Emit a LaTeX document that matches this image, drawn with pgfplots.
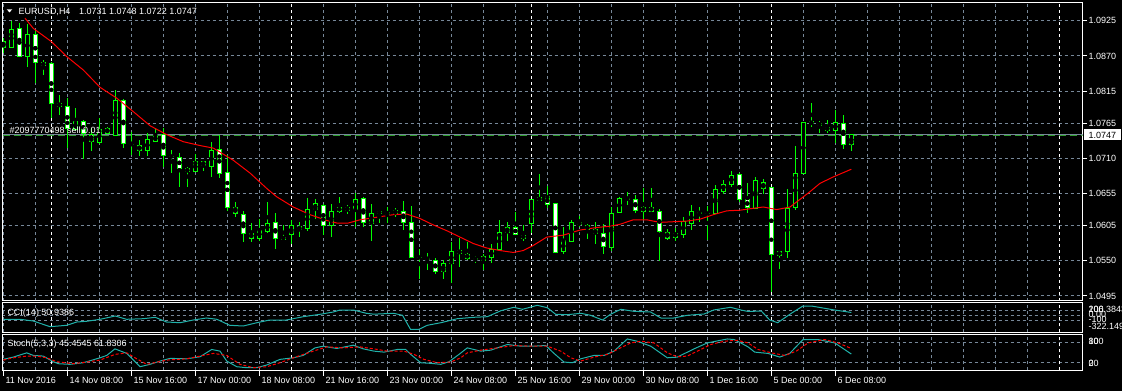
\documentclass[border=0pt]{standalone}
\usepackage{pgfplots}
\pgfplotsset{compat=1.18}
\usepackage{pgfplotstable}
\usepackage{fontspec}
\setmainfont{Liberation Sans}
\definecolor{gridgray}{HTML}{778899}
\definecolor{lsg}{HTML}{20B2AA}
\definecolor{lime}{HTML}{00FF00}
\definecolor{ordergreen}{HTML}{2E9E2E}

\pgfplotstableread{
i O H L C
0 1.0893 1.0898 1.0875 1.0884
1 1.0883 1.0925 1.0882 1.0912
2 1.0913 1.0922 1.0868 1.0869
3 1.0869 1.0920 1.0853 1.0903
4 1.0904 1.0909 1.0828 1.0860
5 1.0859 1.0864 1.0840 1.0855
6 1.0858 1.0861 1.0773 1.0796
7 1.0796 1.0809 1.0778 1.0791
8 1.0791 1.0805 1.0726 1.0757
9 1.0755 1.0788 1.0752 1.0768
10 1.0768 1.0770 1.0709 1.0749
11 1.0748 1.0757 1.0722 1.0737
12 1.0734 1.0773 1.0732 1.0755
13 1.0757 1.0759 1.0748 1.0749
14 1.0746 1.0817 1.0745 1.0801
15 1.0800 1.0803 1.0727 1.0734
16 1.0732 1.0751 1.0715 1.0732
17 1.0730 1.0738 1.0713 1.0723
18 1.0722 1.0749 1.0713 1.0739
19 1.0736 1.0758 1.0735 1.0746
20 1.0748 1.0757 1.0697 1.0714
21 1.0713 1.0723 1.0687 1.0713
22 1.0712 1.0718 1.0665 1.0694
23 1.0694 1.0697 1.0666 1.0689
24 1.0689 1.0717 1.0688 1.0705
25 1.0705 1.0706 1.0691 1.0699
26 1.0697 1.0736 1.0681 1.0722
27 1.0724 1.0746 1.0680 1.0687
28 1.0688 1.0715 1.0628 1.0634
29 1.0633 1.0642 1.0619 1.0624
30 1.0623 1.0628 1.0580 1.0593
31 1.0593 1.0609 1.0580 1.0585
32 1.0585 1.0615 1.0581 1.0598
33 1.0595 1.0642 1.0594 1.0609
34 1.0610 1.0624 1.0568 1.0585
35 1.0587 1.0606 1.0582 1.0584
36 1.0591 1.0614 1.0576 1.0605
37 1.0603 1.0611 1.0587 1.0599
38 1.0600 1.0648 1.0597 1.0630
39 1.0630 1.0646 1.0616 1.0639
40 1.0637 1.0639 1.0590 1.0605
41 1.0605 1.0639 1.0588 1.0627
42 1.0627 1.0650 1.0624 1.0634
43 1.0634 1.0637 1.0623 1.0629
44 1.0630 1.0656 1.0603 1.0646
45 1.0647 1.0649 1.0602 1.0610
46 1.0609 1.0639 1.0581 1.0624
47 1.0627 1.0629 1.0609 1.0624
48 1.0626 1.0634 1.0609 1.0623
49 1.0624 1.0632 1.0619 1.0629
50 1.0627 1.0643 1.0598 1.0610
51 1.0610 1.0636 1.0555 1.0556
52 1.0556 1.0569 1.0521 1.0555
53 1.0554 1.0562 1.0536 1.0552
54 1.0551 1.0554 1.0529 1.0534
55 1.0533 1.0551 1.0521 1.0546
56 1.0545 1.0580 1.0516 1.0565
57 1.0566 1.0586 1.0541 1.0562
58 1.0560 1.0580 1.0551 1.0554
59 1.0554 1.0557 1.0546 1.0553
60 1.0550 1.0561 1.0536 1.0557
61 1.0555 1.0576 1.0547 1.0568
62 1.0567 1.0614 1.0566 1.0594
63 1.0595 1.0611 1.0581 1.0602
64 1.0602 1.0626 1.0590 1.0591
65 1.0590 1.0606 1.0581 1.0585
66 1.0609 1.0646 1.0593 1.0645
67 1.0644 1.0686 1.0643 1.0649
68 1.0650 1.0667 1.0632 1.0638
69 1.0640 1.0640 1.0562 1.0563
70 1.0564 1.0603 1.0560 1.0582
71 1.0580 1.0614 1.0579 1.0610
72 1.0610 1.0620 1.0603 1.0607
73 1.0605 1.0608 1.0584 1.0599
74 1.0599 1.0611 1.0577 1.0593
75 1.0593 1.0608 1.0561 1.0572
76 1.0570 1.0634 1.0566 1.0624
77 1.0625 1.0650 1.0624 1.0648
78 1.0647 1.0657 1.0637 1.0647
79 1.0646 1.0653 1.0624 1.0628
80 1.0627 1.0663 1.0614 1.0634
81 1.0634 1.0664 1.0626 1.0627
82 1.0627 1.0631 1.0550 1.0596
83 1.0594 1.0600 1.0582 1.0585
84 1.0587 1.0602 1.0581 1.0593
85 1.0591 1.0618 1.0586 1.0611
86 1.0609 1.0637 1.0598 1.0627
87 1.0625 1.0634 1.0611 1.0625
88 1.0624 1.0636 1.0582 1.0624
89 1.0624 1.0668 1.0623 1.0662
90 1.0659 1.0676 1.0655 1.0670
91 1.0669 1.0690 1.0665 1.0684
92 1.0684 1.0687 1.0642 1.0646
93 1.0645 1.0672 1.0624 1.0634
94 1.0632 1.0681 1.0632 1.0675
95 1.0673 1.0678 1.0655 1.0663
96 1.0665 1.0665 1.0501 1.0560
97 1.0558 1.0566 1.0537 1.0565
98 1.0564 1.0662 1.0554 1.0632
99 1.0633 1.0730 1.0629 1.0687
100 1.0687 1.0767 1.0686 1.0766
101 1.0767 1.0797 1.0759 1.0764
102 1.0764 1.0769 1.0750 1.0762
103 1.0759 1.0770 1.0750 1.0754
104 1.0753 1.0786 1.0734 1.0766
105 1.0765 1.0778 1.0725 1.0732
106 1.0731 1.0748 1.0722 1.0747
}\candles

\pgfplotstableread{
x y
2.71 1.0929
3.75 1.0913
6.05 1.0892
7.93 1.0869
10.0 1.0848
12.09 1.0821
14.18 1.0804
16.25 1.0783
18.34 1.0761
20.43 1.0747
22.5 1.0736
24.59 1.0730
26.25 1.0726
28.75 1.0707
30.84 1.0687
32.93 1.0663
34.17 1.0650
36.25 1.0634
38.34 1.0622
40.43 1.0613
41.68 1.0609
43.13 1.0609
44.59 1.0614
46.68 1.0618
48.75 1.0622
50.43 1.0623
52.09 1.0616
53.75 1.0606
55.43 1.0597
57.09 1.0587
58.75 1.0577
60.43 1.0570
62.09 1.0566
63.75 1.0563
65.0 1.0566
66.25 1.0574
67.93 1.0587
70.0 1.0590
72.09 1.0598
74.18 1.0602
75.84 1.0604
77.09 1.0607
78.75 1.0614
80.43 1.0614
82.09 1.0610
83.75 1.0611
85.43 1.0612
87.09 1.0615
88.75 1.0622
90.43 1.0628
92.09 1.0629
93.75 1.0632
95.0 1.0634
96.68 1.0630
98.34 1.0634
99.59 1.0646
100.84 1.0658
102.09 1.0671
103.75 1.0681
106.0 1.0693
}\ma

\pgfplotstableread{
x y
0 -86
2.1 -86
3.75 -120
5.84 -234
7.93 -206
9.18 -140
10.4 -126
12.1 -86
14 -20
15.4 -86
17.5 -74
19 -46
20.4 -140
22.1 -154
23.75 -100
25.4 -60
26.7 -86
28.3 -206
30 -220
31.7 -154
33.3 -100
35.4 -100
37.5 -34
39.6 14
41.25 60
42.1 100
43.75 100
45.4 34
46.3 16
48.8 34
49.9 -6
50.9 -286
51.96 -286
53 -206
54.7 -154
56.75 -74
58.8 -46
60.5 -34
62.2 86
63.8 154
64.9 114
66.75 194
68 146
69.05 14
70.5 6
72.2 34
73.4 -6
74.9 -100
75.9 14
77.2 114
78.8 74
80.9 60
82.2 -60
83.8 -60
85.5 -6
87.6 20
88.8 100
90.9 154
92.2 100
93.1 70
94.75 80
95.8 -100
96.8 -154
98.5 34
99.96 180
101 180
103.9 100
106 51
}\cci

\pgfplotstableread{
x y
0 29.8
1.25 36.5
2.93 49
3.75 41.4
5 39.4
6.25 22.8
6.88 17
8.34 15.2
10 19.9
12.09 34.4
12.93 41.4
13.96 60.7
15.43 47.3
17.09 8.2
18.34 15.2
19.59 24.8
20.84 32.7
22.93 31.5
24.59 37.4
26.05 58.9
27.09 54
27.93 24.8
29.18 8.2
30.43 5.3
31.68 5.3
32.93 13.2
34.59 29.8
36.25 34.4
37.5 41.4
38.96 63.6
40 68.6
41.68 61.8
43.75 71.5
45 60.7
46.34 54
47.59 51.1
49.25 58.9
50.3 58.9
50.93 44.4
52.18 19.9
53.43 18.1
54.68 15.2
55.71 22.8
56.96 44.4
58 63.6
59.68 54
60.93 56.9
63 73.5
64.68 68.6
66.34 68.6
67.8 70.6
68.84 47.3
70.09 21.9
71.13 19.9
72.18 31.5
73.84 41.4
75.09 41.4
76.34 54
78 89.8
79.25 83.1
80.93 68.6
83 34.4
84.25 36.5
86.34 60.7
88 78.2
90.5 89.8
91.34 88.1
92.18 78.2
93.09 66.5
93.93 51.1
95.59 47.3
97.05 36.5
98.3 47.3
99.96 88.1
101.84 88.1
103.93 78.2
106 45.45
}\stmain

\pgfplotstableread{
x y
0 27.7
1.25 34.4
2.93 39.4
4.18 39.4
5.43 34.4
6.68 22.8
8.75 17
10.43 21.9
12.09 27.7
13.96 44.4
15.43 49
16.68 31.5
17.93 15.2
20.43 27.7
22.93 31.5
24.59 39.4
26.25 47.3
27.93 41.4
29.59 15.2
31.25 5.3
32.93 8.2
34.59 19.9
36.25 34.4
38.75 54
40.43 66.5
42.5 63.6
44.59 66.5
46.34 60.7
48 54
50.09 54
51.34 44.4
52.59 29.8
54.25 19.9
55.93 21.9
57.18 34.4
58 49
59.68 56.9
61.75 63.6
63.84 70.6
65.93 68.6
68 68.6
69.68 54
70.93 34.4
72.18 24.8
73.84 36.5
75.5 44.4
76.75 58.9
78.43 78.2
79.68 83.1
81.34 78.2
83 49
84.25 37.4
85.5 39.4
87.18 58.9
88.43 73.5
90.09 83.1
91.75 86
93.09 78.2
94.34 58.9
96 49
97.68 41.4
99.13 54
100.59 78.2
102.68 88.1
104.34 78.2
106 61.83
}\stsig

\pgfplotsset{
  mtbase/.style={
    scale only axis, width=1080pt, anchor=north west,
    xmin=-0.1, xmax=134.9,
    axis line style={white, line width=1pt},
    xtick={0,4,...,132}, xticklabels=\empty,
    xtick style={draw=none},
    xmajorgrids, ymajorgrids,
    major grid style={gridgray, line width=1pt, dash pattern=on 3pt off 3pt},
    extra x ticks={6,36,66,96,132}, extra x tick labels=\empty,
    extra x tick style={major grid style={white, line width=1pt, dash pattern=on 3pt off 3pt}, xtick style={draw=none}},
    tick label style={font=\fontsize{9}{10}\selectfont, text=white},
    clip=true,
  },
  candle/.style n args={2}{only marks, mark=none, forget plot,
    error bars/.cd, y dir=both, y explicit, error mark=none,
    error bar style={draw=#1, line width=#2, solid}},
}

\begin{document}
\begin{tikzpicture}[x=1pt,y=1pt, font=\fontsize{9}{10}\selectfont]
\fill[black] (0pt,0pt) rectangle (1122pt,391pt);

% ---------------- main price window ----------------
\begin{axis}[mtbase, at={(2.5pt,388.5pt)}, height=298pt,
  ymin=1.048795, ymax=1.095343,
  ytick={1.0925,1.0870,1.0815,1.0765,1.0710,1.0655,1.0605,1.0550,1.0495},
  yticklabels={1.0925,1.0870,1.0815,1.0765,1.0710,1.0655,1.0605,1.0550,1.0495},
  ytick pos=right, yticklabel pos=right, tick align=outside, major tick length=4pt,
  ytick style={white, line width=1pt},
  yticklabel style={anchor=west, inner sep=0pt, xshift=1.8pt},
]
\addplot[gridgray, line width=1pt, forget plot] coordinates {(-0.1,1.0747) (134.9,1.0747)};
\addplot[ordergreen, line width=1pt, dash pattern=on 7pt off 4pt, forget plot] coordinates {(-0.1,1.07455) (134.9,1.07455)};
% wicks
\addplot[candle={lime}{1pt}] table[x=i, y expr={(\thisrow{H}+\thisrow{L})/2}, y error expr={(\thisrow{H}-\thisrow{L})/2}] {\candles};
% body outlines
\addplot[candle={lime}{5pt}] table[x=i, y expr={(\thisrow{O}+\thisrow{C})/2}, y error expr={abs(\thisrow{O}-\thisrow{C})/2+0.000078}] {\candles};
% bull bodies (black)
\addplot[restrict expr to domain={\thisrow{C}-\thisrow{O}}{0.00017:1}, candle={black}{3pt}] table[x=i, y expr={(\thisrow{O}+\thisrow{C})/2}, y error expr={abs(\thisrow{O}-\thisrow{C})/2-0.000078}] {\candles};
% bear bodies (white)
\addplot[restrict expr to domain={\thisrow{O}-\thisrow{C}}{0.00017:1}, candle={white}{3pt}] table[x=i, y expr={(\thisrow{O}+\thisrow{C})/2}, y error expr={abs(\thisrow{O}-\thisrow{C})/2-0.000078}] {\candles};
% moving average
\addplot[red, line width=1pt, forget plot] table[x=x, y=y] {\ma};
\end{axis}

% ---------------- CCI window ----------------
\begin{axis}[mtbase, at={(2.5pt,88.7pt)}, height=30pt,
  ymin=-346, ymax=254,
  ytick={-100,0,100}, yticklabels=\empty, ytick style={draw=none},
]
\addplot[lsg, line width=1pt] table[x=x, y=y] {\cci};
\end{axis}

% ---------------- Stochastic window ----------------
\begin{axis}[mtbase, at={(2.5pt,56.3pt)}, height=35.6pt,
  ymin=-2.35, ymax=102.35,
  ytick={20,80}, yticklabels=\empty, ytick style={draw=none},
]
\addplot[lsg, line width=1pt] table[x=x, y=y] {\stmain};
\addplot[red, line width=1pt, dash pattern=on 3pt off 2pt] table[x=x, y=y] {\stsig};
\end{axis}

% ---------------- texts ----------------
\begin{scope}[every node/.style={inner sep=0pt, text=white, anchor=base west}]
\fill[white] (6.7pt,381.7pt) -- (12.3pt,381.7pt) -- (9.5pt,378.6pt) -- cycle;
\node at (18.3pt,376.7pt) {EURUSD,H4};
\node at (79pt,376.7pt) {1.0731 1.0748 1.0722 1.0747};
\node at (9.3pt,257.6pt) {\#2097770498 sell 0.01};
\node at (7.3pt,75.6pt) {CCI(14) 50.9386};
\node at (7.3pt,44.7pt) {Stoch(5,3,3) 45.4545 61.8306};
% right labels of CCI
\node at (1088.3pt,78.3pt) {206.3843};
\node at (1088.3pt,78.3pt) {100};
\node at (1088.3pt,73.6pt) {0.00};
\node at (1088.3pt,68.4pt) {-100};
\node at (1088.3pt,61.8pt) {-322.149};
% right labels of Stoch
\node at (1088.3pt,46.4pt) {100};
\node at (1088.3pt,46.4pt) {80};
\node at (1088.3pt,24.6pt) {20};
\node at (1088.3pt,24.6pt) {0};
% bid tag
\fill[white] (1083.5pt,250.5pt) rectangle (1120.5pt,262.2pt);
\node[text=black] at (1088.3pt,252.8pt) {1.0747};
% time axis
\foreach \b/\t in {0/11 Nov 2016, 8/14 Nov 08:00, 16/15 Nov 16:00, 24/17 Nov 00:00, 32/18 Nov 08:00, 40/21 Nov 16:00, 48/23 Nov 00:00, 56/24 Nov 08:00, 64/25 Nov 16:00, 72/29 Nov 00:00, 80/30 Nov 08:00, 88/1 Dec 16:00, 96/5 Dec 00:00, 104/6 Dec 08:00}{
  \draw[white, line width=1pt] ({(3.3+8*\b)*1pt},20.7pt) -- ({(3.3+8*\b)*1pt},15.3pt);
  \node at ({(5.3+8*\b)*1pt},7.7pt) {\t};
}
\end{scope}
\pgfresetboundingbox
\useasboundingbox (0pt,0pt) rectangle (1122pt,391pt);
\end{tikzpicture}
\end{document}
